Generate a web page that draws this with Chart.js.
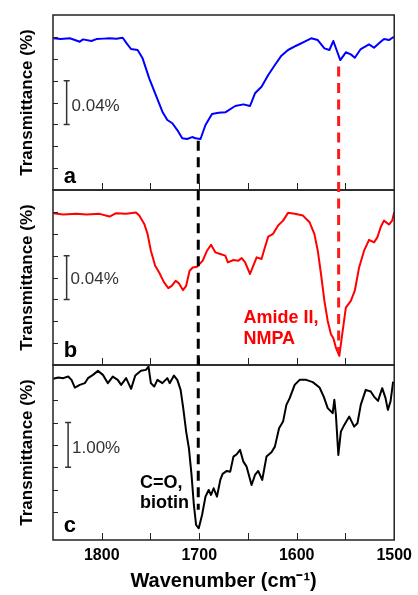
<!DOCTYPE html>
<html>
<head>
<meta charset="utf-8">
<script src="https://cdn.jsdelivr.net/npm/chart.js@4.4.0/dist/chart.umd.min.js"></script>
<style>
  html, body { margin: 0; padding: 0; background: #fff; }
</style>
</head>
<body>
<canvas id="irChart" width="418" height="595"></canvas>
<script>
// FTIR difference spectra, three stacked panels sharing one wavenumber axis

// panel a (blue)
const waveA = [1849.7, 1842, 1832.7, 1822.5, 1819.2, 1810.6, 1805.5, 1798, 1792, 1785, 1778.5, 1774.4,
  1770, 1763.2, 1758.1, 1751.3, 1744.5, 1737.8, 1732.7, 1727.6, 1722.5, 1717.4, 1712.4, 1707.3,
  1703.8, 1698.7, 1693.6, 1686.9, 1680.1, 1673.3, 1663.1, 1654.7, 1647.9, 1642.8, 1636.1, 1629.2,
  1622.4, 1615.7, 1608.9, 1600.5, 1591.9, 1585.2, 1578.4, 1571.6, 1566.5, 1562.4, 1559.1, 1555.3,
  1549.6, 1544.5, 1540.4, 1534.3, 1525.8, 1520.7, 1515.6, 1510.5, 1505.4, 1500.3];
const transA = [0.1387, 0.1380, 0.1387, 0.1356, 0.1377, 0.1362, 0.1380, 0.1384, 0.1387, 0.1383, 0.1392, 0.1341,
  0.1289, 0.1280, 0.1204, 0.1021, 0.0868, 0.0716, 0.0640, 0.0610, 0.0548, 0.0473, 0.0466, 0.0484,
  0.0473, 0.0466, 0.0594, 0.0695, 0.0706, 0.0710, 0.0768, 0.0783, 0.0768, 0.0884, 0.0944, 0.1051,
  0.1143, 0.1228, 0.1280, 0.1319, 0.1356, 0.1387, 0.1371, 0.1295, 0.1280, 0.1362, 0.1280, 0.1188,
  0.1259, 0.1240, 0.1209, 0.1289, 0.1332, 0.1301, 0.1341, 0.1380, 0.1371, 0.1401];

// panel b (red)
const waveB = [1849.7, 1839.5, 1825.9, 1815.7, 1802.2, 1792, 1785.2, 1775, 1764.9, 1761.5, 1756.4, 1753,
  1749.6, 1745.2, 1741.1, 1736.1, 1731.7, 1728.2, 1724.2, 1720.8, 1716.7, 1713.4, 1709.9, 1706.6,
  1702.2, 1696.4, 1692, 1687.9, 1683.5, 1678.4, 1673.3, 1670.6, 1664.9, 1659.8, 1656.4, 1652.9,
  1647.9, 1644.5, 1641.1, 1636.1, 1632.6, 1629.2, 1624.2, 1619.1, 1614, 1608.9, 1602.1, 1593.6,
  1586.8, 1581.9, 1578.4, 1575.1, 1571.6, 1568.2, 1564.9, 1562.4, 1559.8, 1556.3, 1554, 1549.6,
  1544.5, 1540.4, 1536, 1530.9, 1525.8, 1520.7, 1517.3, 1513.9, 1510.5, 1505.4, 1502.1, 1500];
const transB = [0.1388, 0.1376, 0.1382, 0.1376, 0.1382, 0.1357, 0.1388, 0.1382, 0.1394, 0.1366, 0.1290, 0.1199,
  0.1045, 0.0908, 0.0846, 0.0755, 0.0703, 0.0724, 0.0770, 0.0746, 0.0685, 0.0724, 0.0862, 0.0892,
  0.0899, 0.0954, 0.1045, 0.1100, 0.1030, 0.1015, 0.1000, 0.0938, 0.0960, 0.0954, 0.0978, 0.0938,
  0.0832, 0.0908, 0.0984, 0.0969, 0.1076, 0.1174, 0.1199, 0.1275, 0.1320, 0.1391, 0.1382, 0.1366,
  0.1305, 0.1199, 0.1045, 0.0832, 0.0587, 0.0403, 0.0282, 0.0245, 0.0159, 0.0083, 0.0236, 0.0525,
  0.0587, 0.0679, 0.0892, 0.1045, 0.1144, 0.1121, 0.1167, 0.1259, 0.1320, 0.1284, 0.1320, 0.1397];

// panel c (black)
const waveC = [1849.7, 1844.6, 1839.5, 1834.4, 1831, 1827.6, 1822.5, 1817.4, 1814.1, 1809, 1803.9, 1798.8,
  1793.7, 1788.7, 1783.6, 1780.1, 1775, 1769.9, 1765.6, 1759.8, 1754.7, 1752, 1749.6, 1746.2,
  1742.9, 1737.8, 1732.7, 1730.3, 1725.9, 1722.5, 1719.1, 1716.4, 1713.4, 1710.6, 1707.9, 1705.5,
  1703.2, 1700.5, 1697.1, 1693.6, 1690.3, 1687.9, 1685.2, 1681.8, 1678.4, 1676, 1671.7, 1668.2,
  1664.9, 1661.5, 1658.1, 1654.7, 1651.4, 1646.3, 1642.8, 1639.5, 1635.4, 1631, 1625.9, 1622.4,
  1618.1, 1614, 1610.6, 1607.2, 1602.1, 1597, 1590.3, 1583.5, 1576.6, 1572.3, 1568.2, 1563.1,
  1561.4, 1559.8, 1557.3, 1554.7, 1551.2, 1546.1, 1541.1, 1537.7, 1534.3, 1529.2, 1524.1, 1520.7,
  1516.6, 1512.3, 1508.9, 1506.5, 1503.8, 1501.1];
const transC = [3.480, 3.509, 3.495, 3.531, 3.457, 3.285, 3.345, 3.383, 3.495, 3.569, 3.659, 3.569,
  3.383, 3.531, 3.457, 3.345, 3.495, 3.255, 3.554, 3.659, 3.681, 3.755, 3.383, 3.307,
  3.457, 3.383, 3.495, 3.383, 3.554, 3.457, 3.233, 2.823, 2.298, 1.926, 1.327, 0.655,
  0.206, 0.132, 0.431, 0.841, 0.991, 0.879, 1.029, 0.841, 1.215, 1.350, 1.417, 1.401,
  1.738, 1.791, 1.888, 1.625, 1.513, 1.103, 1.327, 1.417, 1.215, 1.738, 1.836, 1.962,
  2.374, 2.522, 2.897, 3.047, 3.345, 3.457, 3.457, 3.406, 3.285, 3.083, 2.823, 2.711,
  3.009, 2.673, 1.776, 2.298, 2.448, 2.634, 2.410, 2.486, 2.897, 3.233, 3.195, 3.083,
  2.986, 3.271, 3.047, 2.785, 2.971, 3.419];

// band positions marked by dashed guides (cm-1)
const bandCO = 1701;
const bandAmideII = 1557;

const FONT = '"Liberation Sans", Arial, Helvetica, sans-serif';
Chart.defaults.font.family = FONT;
Chart.defaults.color = '#000';

const toPoints = (xs, ys) => xs.map((x, i) => ({ x: x, y: ys[i] }));

const panelAxis = (min, max, step) => ({
    type: 'linear',
    position: 'left',
    stack: 'ir',
    stackWeight: 1,
    min: min,
    max: max,
    ticks: { display: false, stepSize: step },
    grid: { display: false, drawTicks: false },
    border: { display: false },
    title: {
        display: true,
        text: 'Transmittance (%)',
        color: '#000',
        font: { size: 17, weight: 'bold' },
        padding: { top: 17, bottom: 0 }
    },
    afterFit: (scale) => { scale.width = 53; }
});

// frames, inward ticks, scale bars, labels and band guides
const panelDecor = {
    id: 'panelDecor',
    afterDraw(chart) {
        const { ctx, chartArea, scales } = chart;
        const x = scales.x;
        const panels = [scales.ya, scales.yb, scales.yc];

        ctx.save();

        // inward ticks
        ctx.strokeStyle = '#222';
        ctx.lineWidth = 1;
        panels.forEach((s) => {
            x.ticks.forEach((t) => {
                if (t.value <= x.min || t.value >= x.max) return;
                const px = Math.round(x.getPixelForValue(t.value)) + 0.5;
                ctx.beginPath();
                ctx.moveTo(px, s.bottom);
                ctx.lineTo(px, s.bottom - 7);
                ctx.stroke();
            });
            s.ticks.forEach((t) => {
                if (t.value <= s.min + 1e-9 || t.value >= s.max - 1e-9) return;
                const py = Math.round(s.getPixelForValue(t.value)) + 0.5;
                ctx.beginPath();
                ctx.moveTo(chartArea.left, py);
                ctx.lineTo(chartArea.left + 5, py);
                ctx.stroke();
            });
        });

        // panel frames
        ctx.lineWidth = 1.5;
        panels.forEach((s) => {
            ctx.strokeRect(chartArea.left, s.top, chartArea.right - chartArea.left, s.bottom - s.top);
        });

        // scale bars
        const bar = (s, wn, lo, hi, label, wnText, vText) => {
            const bx = x.getPixelForValue(wn);
            const y1 = s.getPixelForValue(lo);
            const y2 = s.getPixelForValue(hi);
            ctx.strokeStyle = '#333';
            ctx.lineWidth = 1.5;
            ctx.beginPath();
            ctx.moveTo(bx, y1); ctx.lineTo(bx, y2);
            ctx.moveTo(bx - 3, y1); ctx.lineTo(bx + 3, y1);
            ctx.moveTo(bx - 3, y2); ctx.lineTo(bx + 3, y2);
            ctx.stroke();
            ctx.fillStyle = '#333';
            ctx.font = '17px ' + FONT;
            ctx.textAlign = 'left';
            ctx.textBaseline = 'alphabetic';
            ctx.fillText(label, x.getPixelForValue(wnText), s.getPixelForValue(vText));
        };
        bar(scales.ya, 1836, 0.06, 0.10, '0.04%', 1831, 0.0722);
        bar(scales.yb, 1836, 0.06, 0.10, '0.04%', 1832, 0.0738);
        bar(scales.yc, 1834.5, 1.5, 2.5, '1.00%', 1830.5, 1.814);

        // text labels
        const label = (s, str, wn, v, font, color) => {
            ctx.font = font;
            ctx.fillStyle = color;
            ctx.textAlign = 'left';
            ctx.textBaseline = 'alphabetic';
            ctx.fillText(str, x.getPixelForValue(wn), s.getPixelForValue(v));
        };
        const big = 'bold 22px ' + FONT;
        label(scales.ya, 'a', 1839, 0.0064, big, '#000');
        label(scales.yb, 'b', 1839, 0.0073, big, '#000');
        label(scales.yc, 'c', 1839, 0.049, big, '#000');
        const note = 'bold 18px ' + FONT;
        label(scales.yb, 'Amide II,', 1654.7, 0.0387, note, '#ff0000');
        label(scales.yb, 'NMPA', 1654.7, 0.0189, note, '#ff0000');
        label(scales.yc, 'C=O,', 1760.8, 1.029, note, '#000');
        label(scales.yc, 'biotin', 1760.8, 0.581, note, '#000');

        // dashed band guides
        ctx.lineWidth = 3;
        ctx.setLineDash([10, 6.5]);
        let gx = x.getPixelForValue(bandCO);
        ctx.strokeStyle = '#000';
        ctx.beginPath();
        ctx.moveTo(gx, scales.ya.getPixelForValue(0.045));
        ctx.lineTo(gx, scales.yc.getPixelForValue(0.55));
        ctx.stroke();
        gx = x.getPixelForValue(bandAmideII);
        ctx.strokeStyle = '#ff1a1a';
        ctx.beginPath();
        ctx.moveTo(gx, scales.ya.getPixelForValue(0.113));
        ctx.lineTo(gx, scales.yb.getPixelForValue(0.012));
        ctx.stroke();

        ctx.restore();
    }
};

const config = {
    type: 'line',
    data: {
        datasets: [
            { data: toPoints(waveA, transA), yAxisID: 'ya', borderColor: '#0000ff', borderWidth: 2 },
            { data: toPoints(waveB, transB), yAxisID: 'yb', borderColor: '#ff0000', borderWidth: 2 },
            { data: toPoints(waveC, transC), yAxisID: 'yc', borderColor: '#000000', borderWidth: 2 }
        ]
    },
    options: {
        responsive: false,
        animation: false,
        layout: { padding: { top: 15, right: 21, bottom: 0, left: 0 } },
        elements: {
            point: { radius: 0 },
            line: { tension: 0, borderJoinStyle: 'round', fill: false }
        },
        plugins: { legend: { display: false }, tooltip: { enabled: false } },
        scales: {
            x: {
                type: 'linear',
                reverse: true,
                min: 1500,
                max: 1850,
                grid: { display: false, drawTicks: false },
                border: { display: false },
                ticks: {
                    stepSize: 50,
                    autoSkip: false,
                    maxRotation: 0,
                    padding: 6,
                    color: '#000',
                    font: { size: 16, weight: 'bold' },
                    callback: (v) => (v % 100 === 0 && v < 1850 ? String(v) : '')
                },
                title: {
                    display: true,
                    text: 'Wavenumber (cm⁻¹)',
                    color: '#000',
                    font: { size: 20, weight: 'bold' },
                    padding: { top: 0, bottom: 2 }
                },
                afterFit: (scale) => { scale.height = 55; }
            },
            yc: panelAxis(-0.13, 3.79, 0.5),
            yb: panelAxis(0, 0.16, 0.02),
            ya: panelAxis(0, 0.16, 0.02)
        }
    },
    plugins: [panelDecor]
};

new Chart(document.getElementById('irChart'), config);
</script>
</body>
</html>
